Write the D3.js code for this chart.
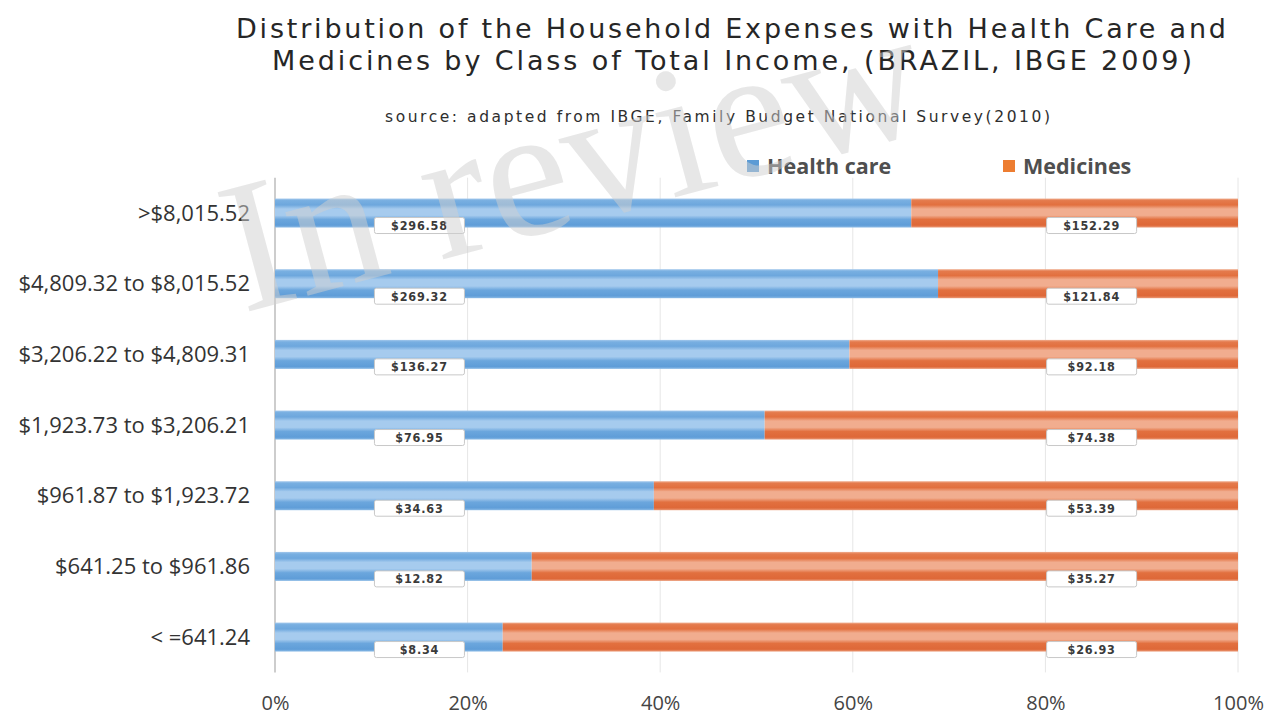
<!DOCTYPE html>
<html>
<head>
<meta charset="utf-8">
<script src="https://cdn.jsdelivr.net/npm/d3@7"></script>
<style>
  html, body { margin: 0; padding: 0; background: #fff; }
  svg { display: block; }
</style>
</head>
<body>
<svg id="chart" width="1269" height="717"></svg>
<script>
// Income classes, top to bottom
const incomeClasses = [
  ">$8,015.52",
  "$4,809.32 to $8,015.52",
  "$3,206.22 to $4,809.31",
  "$1,923.73 to $3,206.21",
  "$961.87 to $1,923.72",
  "$641.25 to $961.86",
  "< =641.24"
];
// Monthly household spending (R$)
const healthCare = [296.58, 269.32, 136.27, 76.95, 34.63, 12.82, 8.34];
const medicines  = [152.29, 121.84, 92.18, 74.38, 53.39, 35.27, 26.93];
const seriesNames = ["Health care", "Medicines"];
const xTicks = [0, 0.2, 0.4, 0.6, 0.8, 1];

const svg = d3.select("#chart");
const plot = { left: 275, right: 1238, top: 177.7, bottom: 672.4 };

const rows = incomeClasses.map((c, i) => {
  const total = healthCare[i] + medicines[i];
  return { cls: c, hc: healthCare[i], med: medicines[i], hcShare: healthCare[i] / total };
});

const x = d3.scaleLinear().domain([0, 1]).range([plot.left, plot.right]);
const y = d3.scaleBand().domain(incomeClasses).range([plot.top, plot.bottom])
  .paddingInner(0.59).paddingOuter(0.295);

// Glossy striped bar fills
const defs = svg.append("defs");
function stripes(id, stops) {
  const g = defs.append("linearGradient").attr("id", id)
    .attr("x1", 0).attr("y1", 0).attr("x2", 0).attr("y2", 1);
  stops.forEach(([o, c]) => g.append("stop").attr("offset", o).attr("stop-color", c));
}
stripes("gradHC", [[0, "#a3c8ec"], [0.07, "#78afe1"], [0.22, "#6da7dd"], [0.36, "#a6cbee"],
  [0.58, "#a6cbee"], [0.72, "#6ba6dd"], [0.92, "#5f9dd8"], [1, "#8cbbe6"]]);
stripes("gradMed", [[0, "#f0ae90"], [0.07, "#e47a4c"], [0.22, "#e2703f"], [0.36, "#f1ad8f"],
  [0.58, "#f1ad8f"], [0.72, "#e2703f"], [0.92, "#de6838"], [1, "#eb9a77"]]);

// Title block
const title = svg.append("g").attr("font-family", "DejaVu Sans, sans-serif")
  .attr("fill", "#262626");
title.append("text").attr("x", 236).attr("y", 38).attr("font-size", 27)
  .attr("textLength", 990).attr("lengthAdjust", "spacing")
  .text("Distribution of the Household Expenses with Health Care and");
title.append("text").attr("x", 272).attr("y", 70).attr("font-size", 27)
  .attr("textLength", 920).attr("lengthAdjust", "spacing")
  .text("Medicines by Class of Total Income, (BRAZIL, IBGE 2009)");
title.append("text").attr("x", 385).attr("y", 122).attr("font-size", 15.5)
  .attr("textLength", 665).attr("lengthAdjust", "spacing").attr("fill", "#2e2e2e")
  .text("source: adapted from IBGE, Family Budget National Survey(2010)");

// Legend
const legend = svg.append("g").attr("font-family", "Open Sans, sans-serif")
  .attr("font-weight", 700).attr("font-size", 21.5).attr("fill", "#4f4f4f");
const legendPos = [747, 1003];
const legendColors = ["#5b9bd5", "#ed7d31"];
seriesNames.forEach((name, i) => {
  legend.append("rect").attr("x", legendPos[i]).attr("y", 160).attr("width", 12).attr("height", 12)
    .attr("fill", legendColors[i]);
  legend.append("text").attr("x", legendPos[i] + 20).attr("y", 174).text(name);
});

// Gridlines
svg.append("g").selectAll("line").data(xTicks.slice(1)).join("line")
  .attr("x1", d => x(d)).attr("x2", d => x(d))
  .attr("y1", plot.top).attr("y2", plot.bottom)
  .attr("stroke", "#e6e6e6").attr("stroke-width", 1);

// Category axis line
svg.append("line").attr("x1", plot.left).attr("x2", plot.left)
  .attr("y1", plot.top).attr("y2", plot.bottom)
  .attr("stroke", "#bdbdbd").attr("stroke-width", 1.5);

// Bars
const barG = svg.append("g");
barG.selectAll("rect.hc").data(rows).join("rect").attr("class", "hc")
  .attr("x", x(0)).attr("y", d => y(d.cls))
  .attr("width", d => x(d.hcShare) - x(0)).attr("height", y.bandwidth())
  .attr("fill", "url(#gradHC)");
barG.selectAll("rect.med").data(rows).join("rect").attr("class", "med")
  .attr("x", d => x(d.hcShare)).attr("y", d => y(d.cls))
  .attr("width", d => x(1) - x(d.hcShare)).attr("height", y.bandwidth())
  .attr("fill", "url(#gradMed)");

// Value labels
const labelAt = [0.15, 0.848];
const labG = svg.append("g").attr("font-family", "DejaVu Sans Condensed, DejaVu Sans, sans-serif")
  .attr("font-size", 12.5).attr("font-weight", 700).attr("fill", "#3a3a3a");
rows.forEach(d => {
  [d.hc, d.med].forEach((v, k) => {
    const cx = x(labelAt[k]);
    const cy = y(d.cls) + y.bandwidth() - 2;
    labG.append("rect").attr("x", cx - 45).attr("y", cy - 8).attr("width", 90).attr("height", 16)
      .attr("rx", 2).attr("fill", "#fff").attr("stroke", "#c8c8c8").attr("stroke-width", 1);
    labG.append("text").attr("x", cx).attr("y", cy + 4.5).attr("text-anchor", "middle")
      .attr("letter-spacing", 0.8).text("$" + v.toFixed(2));
  });
});

// Category labels
svg.append("g").selectAll("text").data(incomeClasses).join("text")
  .attr("x", 250).attr("y", d => y(d) + y.bandwidth() / 2 + 7.5)
  .attr("text-anchor", "end").attr("font-family", "Open Sans, sans-serif")
  .attr("font-size", 22).attr("fill", "#333").text(d => d);

// Percent axis
const xAxis = svg.append("g").attr("transform", `translate(0,${plot.bottom})`)
  .call(d3.axisBottom(x).tickValues(xTicks).tickFormat(d3.format(".0%")).tickSize(0).tickPadding(23));
xAxis.select(".domain").remove();
xAxis.selectAll("text").attr("font-family", "Open Sans, sans-serif").attr("font-size", 20)
  .attr("fill", "#444");

// Watermark
svg.append("text").attr("transform", "translate(243,313) rotate(-15)")
  .attr("font-family", "Liberation Serif, serif")
  .attr("font-size", 188).attr("fill", "#cfcfcf").attr("fill-opacity", 0.5)
  .text("In review");
</script>
</body>
</html>
